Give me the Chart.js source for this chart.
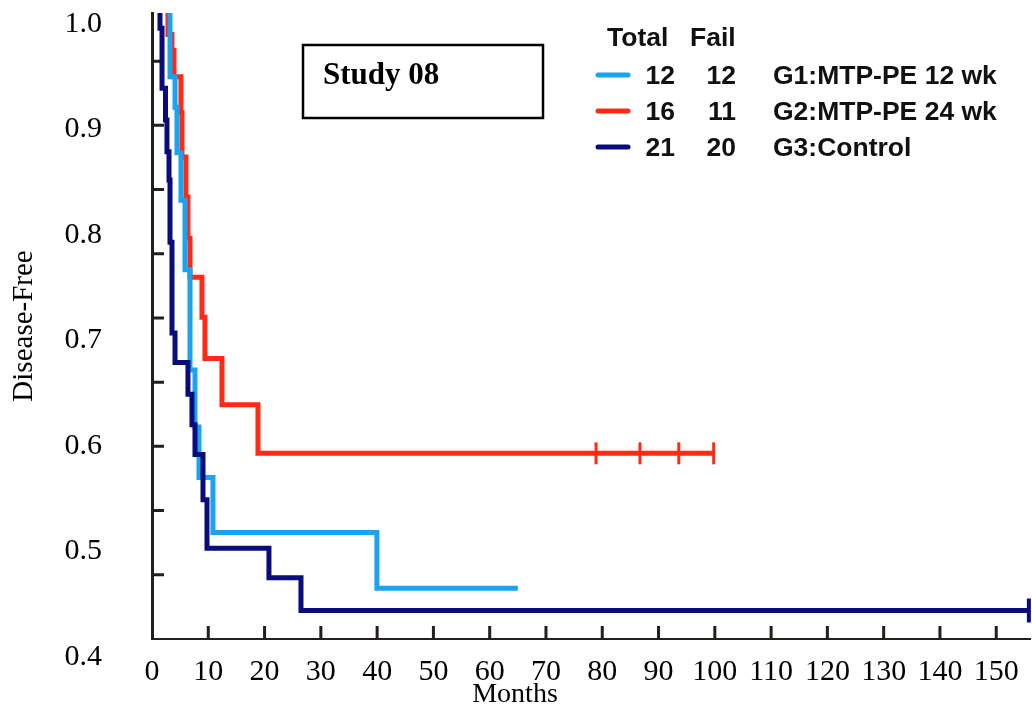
<!DOCTYPE html>
<html>
<head>
<meta charset="utf-8">
<title>Study 08 - Disease-Free</title>
<script src="https://cdn.jsdelivr.net/npm/chart.js@4.4.1/dist/chart.umd.min.js"></script>
<style>
  html, body { margin: 0; padding: 0; background: #fff; }
</style>
</head>
<body>
<canvas id="dfsChart" width="1032" height="707"></canvas>
<script>
// Kaplan-Meier steps: month of each drop and the disease-free fraction after it
const g1Months = [0, 3.20, 4.09, 4.44, 5.15, 5.86, 6.75, 7.64, 8.35, 10.83, 39.96, 65.0];
const g1Surv   = [1.05, 0.950, 0.921, 0.878, 0.833, 0.767, 0.672, 0.618, 0.570, 0.518, 0.465, 0.465];

const g2Months = [0, 2.84, 3.55, 3.91, 5.15, 5.33, 6.04, 6.39, 6.75, 8.88, 9.41, 12.43, 18.83, 99.8];
const g2Surv   = [1.05, 0.990, 0.975, 0.950, 0.916, 0.874, 0.836, 0.797, 0.760, 0.722, 0.683, 0.639, 0.593, 0.593];

const g3Months = [0, 1.42, 1.78, 2.40, 2.66, 3.02, 3.20, 3.55, 4.09, 6.39, 7.10, 7.64, 9.06, 9.77, 20.78, 26.47, 155.8];
const g3Surv   = [1.05, 0.996, 0.939, 0.909, 0.879, 0.852, 0.793, 0.707, 0.679, 0.649, 0.620, 0.592, 0.549, 0.503, 0.475, 0.444, 0.444];

// censored patients
const g2CensorMonths = [78.9, 86.7, 93.6, 99.8];
const g2CensorSurv   = [0.593, 0.593, 0.593, 0.593];
const g3CensorMonths = [155.8];
const g3CensorSurv   = [0.444];

const groupNames  = ['G1:MTP-PE 12 wk', 'G2:MTP-PE 24 wk', 'G3:Control'];
const groupTotals = [12, 16, 21];
const groupFails  = [12, 11, 20];
const groupColors = ['#1aa3ee', '#ff2a14', '#0a0c7c'];

const yTickValues = [0.4, 0.5, 0.6, 0.7, 0.8, 0.9, 1.0];
const studyTitle = 'Study 08';

const AXIS = '#231f1c';
const SERIF = '"Liberation Serif", "Times New Roman", serif';
const SANS = '"Liberation Sans", Arial, sans-serif';

const toPoints = (xs, ys) => xs.map((x, i) => ({ x: x, y: ys[i] }));

function curve(i, months, surv) {
  return {
    label: groupNames[i],
    data: toPoints(months, surv),
    borderColor: groupColors[i],
    borderWidth: 5,
    borderJoinStyle: 'miter',
    stepped: 'before',
    pointRadius: 0,
    fill: false
  };
}

function censorMarks(i, months, surv, size, width) {
  return {
    label: groupNames[i] + ' censored',
    data: toPoints(months, surv),
    showLine: false,
    pointStyle: 'line',
    pointRotation: 90,
    pointRadius: size,
    pointBorderWidth: width,
    pointBorderColor: groupColors[i],
    borderColor: groupColors[i],
    clip: false
  };
}

// short inward tick marks on both axes
const innerTicks = {
  id: 'innerTicks',
  beforeDatasetsDraw(chart) {
    const { ctx, chartArea } = chart;
    const x = chart.scales.x;
    const marks = chart.scales.yMarks;
    ctx.save();
    ctx.strokeStyle = AXIS;
    ctx.lineWidth = 3;
    ctx.beginPath();
    x.ticks.forEach(t => {
      if (t.value <= 0) return;
      const px = x.getPixelForValue(t.value);
      ctx.moveTo(px, chartArea.bottom);
      ctx.lineTo(px, chartArea.bottom - 13);
    });
    marks.ticks.forEach(t => {
      if (t.value <= 0) return;
      const py = marks.getPixelForValue(t.value);
      ctx.moveTo(chartArea.left, py);
      ctx.lineTo(chartArea.left + 12, py);
    });
    ctx.stroke();
    ctx.restore();
  }
};

// Total / Fail table with line keys, plus the study tag
const groupTable = {
  id: 'groupTable',
  afterDraw(chart) {
    const ctx = chart.ctx;
    ctx.save();
    ctx.font = 'bold 26.5px ' + SANS;
    ctx.fillStyle = '#111';
    ctx.textBaseline = 'middle';
    ctx.textAlign = 'left';
    ctx.fillText('Total', 607, 39);
    ctx.fillText('Fail', 690, 39);
    groupNames.forEach((name, i) => {
      const y = 77 + i * 36;
      ctx.strokeStyle = groupColors[i];
      ctx.lineWidth = 5;
      ctx.lineCap = 'round';
      ctx.beginPath();
      ctx.moveTo(598, y - 2);
      ctx.lineTo(628, y - 2);
      ctx.stroke();
      ctx.textAlign = 'right';
      ctx.fillText(String(groupTotals[i]), 675, y);
      ctx.fillText(String(groupFails[i]), 736, y);
      ctx.textAlign = 'left';
      ctx.fillText(name, 773, y);
    });

    ctx.strokeStyle = '#000';
    ctx.lineWidth = 2.5;
    ctx.strokeRect(303, 45, 240, 73);
    ctx.font = 'bold 31px ' + SERIF;
    ctx.fillStyle = '#000';
    ctx.textBaseline = 'alphabetic';
    ctx.fillText(studyTitle, 323, 84);
    ctx.restore();
  }
};

new Chart(document.getElementById('dfsChart'), {
  type: 'line',
  data: {
    datasets: [
      curve(2, g3Months, g3Surv),
      curve(0, g1Months, g1Surv),
      curve(1, g2Months, g2Surv),
      censorMarks(1, g2CensorMonths, g2CensorSurv, 11, 3),
      censorMarks(2, g3CensorMonths, g3CensorSurv, 12, 4)
    ]
  },
  options: {
    responsive: false,
    animation: false,
    devicePixelRatio: 1,
    layout: { autoPadding: false, padding: { top: 13, right: 2, bottom: 0, left: 0 } },
    font: { family: SERIF },
    plugins: {
      legend: { display: false },
      tooltip: { enabled: false },
      title: {
        display: true,
        text: 'Months',
        position: 'bottom',
        color: '#000',
        padding: 0,
        font: { family: SERIF, size: 28, weight: 'normal', lineHeight: 0.86 }
      }
    },
    scales: {
      x: {
        type: 'linear',
        min: 0,
        max: 156,
        grid: { display: false, drawTicks: false },
        border: { display: true, color: AXIS, width: 2 },
        ticks: {
          stepSize: 10,
          includeBounds: false,
          autoSkip: false,
          maxRotation: 0,
          minRotation: 0,
          padding: 15,
          color: '#000',
          font: { family: SERIF, size: 30 }
        },
        afterFit: s => { s.height = 44; s.paddingLeft = 0; s.paddingRight = 0; }
      },
      y: {
        position: 'left',
        min: 0.41706,
        max: 1.01043,
        afterBuildTicks: s => { s.ticks = yTickValues.map(v => ({ value: v })); },
        grid: { display: false, drawTicks: false },
        border: { display: true, color: AXIS, width: 3 },
        ticks: {
          padding: 50,
          color: '#000',
          font: { family: SERIF, size: 30 },
          callback: v => Number(v).toFixed(1)
        },
        title: {
          display: true,
          text: 'Disease-Free',
          color: '#000',
          font: { family: SERIF, size: 29 },
          padding: { top: 7, bottom: 0 }
        },
        afterFit: s => { s.width = 152; s.paddingTop = 0; s.paddingBottom = 0; }
      },
      // spacing of the inner tick marks along the vertical axis
      yMarks: {
        display: false,
        position: 'left',
        min: 0,
        max: 9.75,
        ticks: { stepSize: 1, includeBounds: false }
      }
    }
  },
  plugins: [innerTicks, groupTable]
});
</script>
</body>
</html>
